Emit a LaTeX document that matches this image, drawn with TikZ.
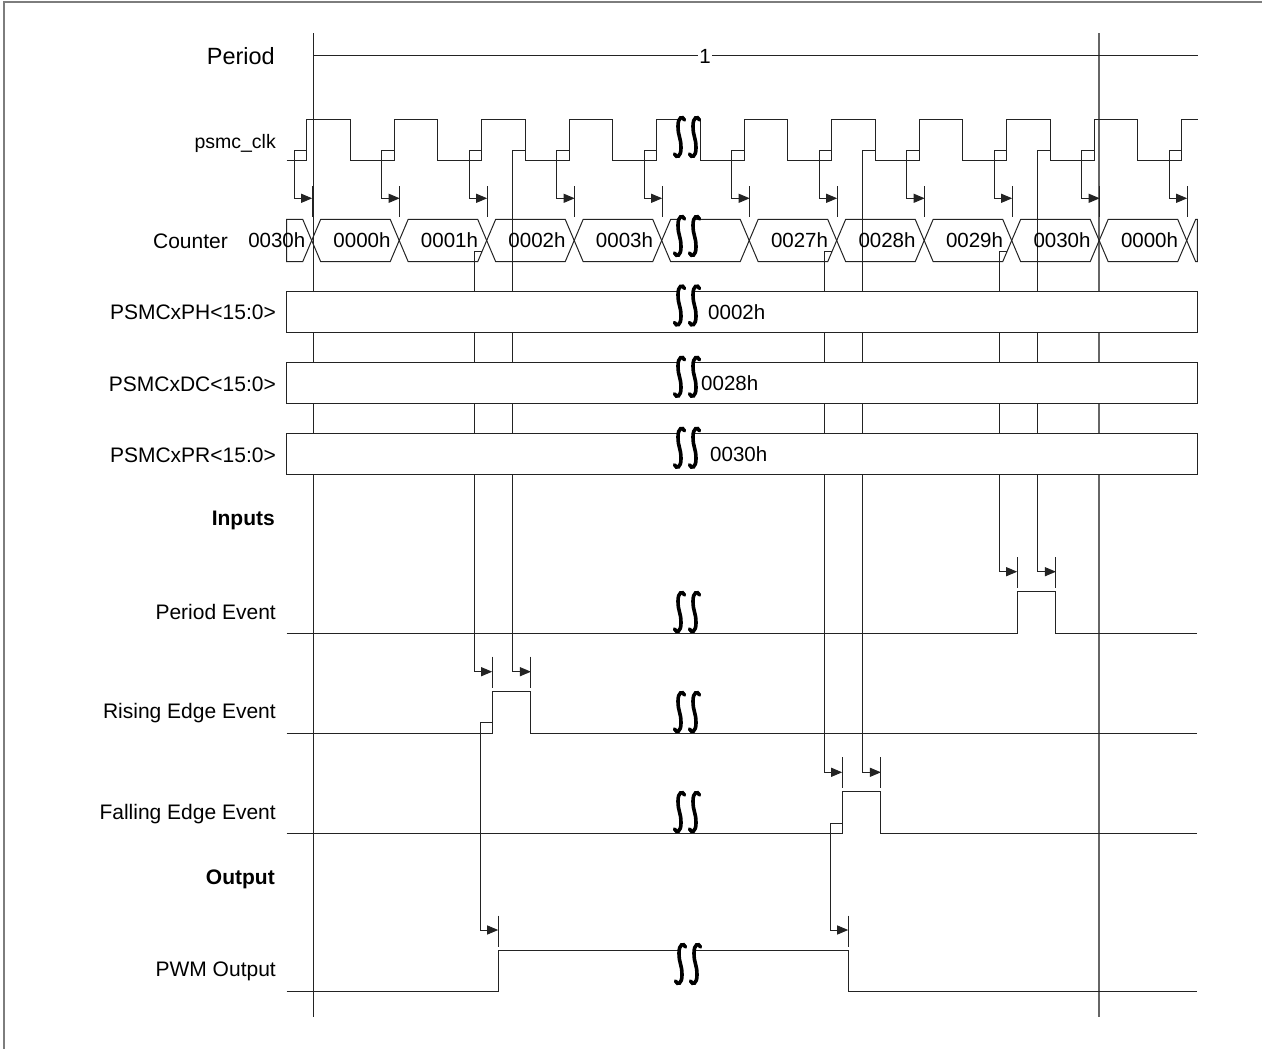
\documentclass[tikz,border=0pt]{standalone}
\usepackage{fontspec}
\setmainfont{Liberation Sans}
\usetikzlibrary{arrows.meta,positioning,calc}
\definecolor{tdline}{RGB}{35,35,35}
\definecolor{tdframe}{RGB}{125,125,125}

% one stroke of the break mark, centred on (#1,#2)
\newcommand{\brkstroke}[2]{%
  \draw[brkline] (#1+5,#2-17) .. controls (#1+3,#2-21.5) and (#1-1.5,#2-20) .. (#1-1.5,#2-11)
    .. controls (#1-1.5,#2) and (#1+1.5,#2) .. (#1+1.5,#2+11)
    .. controls (#1+1.5,#2+20) and (#1-3,#2+21.5) .. (#1-5,#2+17);
}
% break mark: two strokes with white between them
\newcommand{\brkmark}[2]{%
  \fill[white] (#1-7.5,#2-20) rectangle (#1+7.5,#2+20);
  \brkstroke{#1-7.5}{#2}
  \brkstroke{#1+7.5}{#2}
}

\begin{document}
\begin{tikzpicture}[x=1pt,y=-1pt,
    sig/.style={draw=tdline, line width=1pt},
    arr/.style={sig, -{Triangle[length=11pt,width=9pt]}},
    rowlbl/.style={anchor=east, inner sep=0pt, font=\fontsize{21}{25}\selectfont},
    hdrlbl/.style={anchor=east, inner sep=0pt, font=\fontsize{21}{25}\selectfont\bfseries},
    val/.style={inner sep=0pt, font=\fontsize{20.5}{24}\selectfont},
    brkline/.style={line width=3.6pt, line cap=round, black}]
  \useasboundingbox (0,0) rectangle (1262,1049);
  \draw[tdframe, line width=1.5pt] (4,1049) -- (4,2) -- (1262,2);

  % period markers
  \draw[sig] (313,33.3) -- (313,1016.7);
  \draw[sig, draw=black!60, line width=1.3pt] (1099,33.3) -- (1099,1016.7);
  \draw[sig] (313,56) -- (1198,56);
  \node[val, fill=white, inner sep=1.5pt] (pone) at (705,56) {1};

  % match lines down to the event rows
  \draw[arr] (481.95,251.7) -- (474.2,251.7) -- (474.2,671.7) -- (492.2,671.7);
  \draw[arr] (525.45,150.7) -- (512.95,150.7) -- (512.95,671.7) -- (530.95,671.7);
  \draw[arr] (831.95,251.7) -- (824.2,251.7) -- (824.2,772.3) -- (842.2,772.3);
  \draw[arr] (875.45,150.7) -- (862.95,150.7) -- (862.95,772.3) -- (880.95,772.3);
  \draw[arr] (1006.95,251.7) -- (999.2,251.7) -- (999.2,571.7) -- (1017.2,571.7);
  \draw[arr] (1050.45,150.7) -- (1037.95,150.7) -- (1037.95,571.7) -- (1055.95,571.7);

  % registers
  \foreach \y/\v/\tx/\n in {291/0002h/708/ph, 362.3/0028h/701/dc, 433.3/0030h/710/pr} {
    \draw[sig, fill=white] (286.7,\y) rectangle (1197.3,\y+41.5);
    \node[val, anchor=west] (reg\n) at (\tx,\y+21) {\v};
    \brkmark{687}{\y+14.5}
  }

  % psmc_clk
  \draw[sig] (286.7,160.7) \foreach \k in {0,...,9} {
      -- ({306.7+\k*87.5},160.7) -- ({306.7+\k*87.5},119.5)
      -- ({350.45+\k*87.5},119.5) -- ({350.45+\k*87.5},160.7)}
    -- (1181.7,160.7) -- (1181.7,119.5) -- (1197.5,119.5);
  \foreach \k in {0,...,10} {
    \pgfmathsetmacro\r{306.7+\k*87.5}
    \draw[arr] (\r,150.7) -- (\r-12.5,150.7) -- (\r-12.5,198.3) -- (\r+5.5,198.3);
    \draw[sig] (\r+5.5,186) -- (\r+5.5,216.7);
  }
  \brkmark{687}{137}

  % counter
  \draw[sig] (286.7,219.3) -- (302.7,219.3) -- (311.7,240.5) -- (302.7,261.7) -- (286.7,261.7) -- cycle;
  \foreach \k in {0,...,9} {
    \pgfmathsetmacro\ca{311.7+\k*87.5}
    \pgfmathsetmacro\cb{\ca+87.5}
    \draw[sig] (\ca,240.5) -- (\ca+9,219.3) -- (\cb-9,219.3) -- (\cb,240.5)
      -- (\cb-9,261.7) -- (\ca+9,261.7) -- cycle;
  }
  \draw[sig] (1186.7,240.5) -- (1195.7,219.3) -- (1197.3,219.3) -- (1197.3,261.7) -- (1195.7,261.7) -- cycle;
  \node[val, anchor=east] (cvpre) at (305.5,240.5) {0030h};
  \foreach \k/\v in {0/0000h,1/0001h,2/0002h,3/0003h,5/0027h,6/0028h,7/0029h,8/0030h,9/0000h}
    \node[val, anchor=east] (cv\k) at ({390.7+\k*87.5},240.5) {\v};
  \brkmark{687}{236}

  % Period Event
  \draw[sig] (286.7,633.3) -- (1017.2,633.3) -- (1017.2,591) -- (1055.95,591) -- (1055.95,633.3) -- (1197.3,633.3);
  \foreach \x in {1017.2,1055.95} \draw[sig] (\x,557.3) -- (\x,588.3);
  \brkmark{687}{612}

  % Rising Edge Event
  \draw[sig] (286.7,733.3) -- (492.2,733.3) -- (492.2,691.7) -- (530.95,691.7) -- (530.95,733.3) -- (1197.3,733.3);
  \foreach \x in {492.2,530.95} \draw[sig] (\x,656.7) -- (\x,688.3);
  \brkmark{687}{712}

  % Falling Edge Event
  \draw[sig] (286.7,833.3) -- (842.2,833.3) -- (842.2,791.7) -- (880.95,791.7) -- (880.95,833.3) -- (1197.3,833.3);
  \foreach \x in {842.2,880.95} \draw[sig] (\x,757.3) -- (\x,788.3);
  \brkmark{687}{812}

  % PWM Output
  \draw[arr] (492.2,722.7) -- (480.2,722.7) -- (480.2,930) -- (498.2,930);
  \draw[arr] (842.2,823.3) -- (830.2,823.3) -- (830.2,930) -- (848.2,930);
  \draw[sig] (286.7,991.7) -- (498.2,991.7) -- (498.2,950) -- (848.2,950) -- (848.2,991.7) -- (1197.3,991.7);
  \foreach \x in {498.2,848.2} \draw[sig] (\x,915.7) -- (\x,946.7);
  \brkmark{688}{964}

  % row labels
  \node[rowlbl, font=\fontsize{23.5}{28}\selectfont] (lperiod) at (275,56) {Period};
  \node[rowlbl, font=\fontsize{19.5}{23}\selectfont] (lclk) at (276,143) {psmc\_clk};
  \node[rowlbl] (lcnt) at (228,241) {Counter};
  \node[rowlbl] (lph) at (276,312) {PSMCxPH<15:0>};
  \node[rowlbl] (ldc) at (276,384) {PSMCxDC<15:0>};
  \node[rowlbl] (lpr) at (276,455) {PSMCxPR<15:0>};
  \node[hdrlbl] (lin) at (275,520) {Inputs};
  \node[rowlbl] (lpev) at (276,612) {Period Event};
  \node[rowlbl] (lrev) at (276,713) {Rising Edge Event};
  \node[rowlbl] (lfev) at (276,814) {Falling Edge Event};
  \node[hdrlbl] (lout) at (275,879) {Output};
  \node[rowlbl] (lpwm) at (276,971) {PWM Output};
\end{tikzpicture}
\end{document}
